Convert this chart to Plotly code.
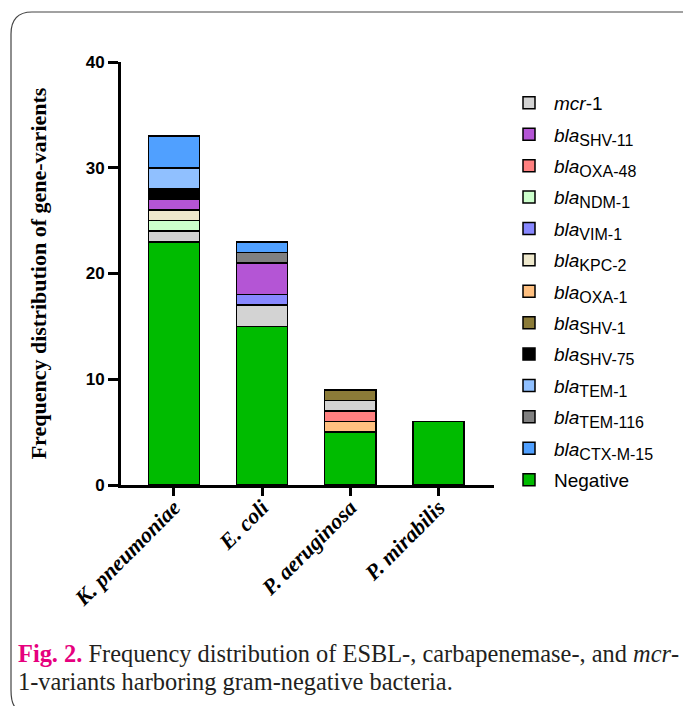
import plotly.graph_objects as go

# ---------------- data ----------------
categories = ["K. pneumoniae", "E. coli", "P. aeruginosa", "P. mirabilis"]

# stacking order bottom -> top
series_names = ["Negative", "OXA-1", "OXA-48", "mcr-1", "NDM-1", "VIM-1", "KPC-2",
                "SHV-11", "SHV-1", "SHV-75", "TEM-116", "TEM-1", "CTX-M-15"]

negative = [23, 15, 5, 6]
oxa_1 = [0, 0, 1, 0]
oxa_48 = [0, 0, 1, 0]
mcr_1 = [1, 2, 1, 0]
ndm_1 = [1, 0, 0, 0]
vim_1 = [0, 1, 0, 0]
kpc_2 = [1, 0, 0, 0]
shv_11 = [1, 3, 0, 0]
shv_1 = [0, 0, 1, 0]
shv_75 = [1, 0, 0, 0]
tem_116 = [0, 1, 0, 0]
tem_1 = [2, 0, 0, 0]
ctx_m_15 = [3, 1, 0, 0]

series_values = [negative, oxa_1, oxa_48, mcr_1, ndm_1, vim_1, kpc_2,
                 shv_11, shv_1, shv_75, tem_116, tem_1, ctx_m_15]

series_colors = ["#00BB00", "#FFC080", "#FF8080", "#D3D3D3", "#CCFFCC", "#8888FF", "#EEE8CC",
                 "#B455D5", "#8B7B38", "#000000", "#808080", "#90C0FF", "#50A0FF"]

# legend order top -> bottom
legend_order = ["mcr-1", "SHV-11", "OXA-48", "NDM-1", "VIM-1", "KPC-2", "OXA-1",
                "SHV-1", "SHV-75", "TEM-1", "TEM-116", "CTX-M-15", "Negative"]

y_ticks = [0, 10, 20, 30, 40]


def label(name):
    if name == "Negative":
        return "Negative"
    if name == "mcr-1":
        return "<i>mcr</i>-1"
    return "<i>bla</i><sub><span style='font-size:16px'>" + name + "</span></sub>"


# ---------------- layout geometry ----------------
W, H = 683, 706
L, R, T, B = 121, 494, 62, 485  # plot area in pixels


def px(x):
    return (x - L) / (R - L)


def py(y):
    return (B - y) / (B - T)


fig = go.Figure()
for name, vals, col in zip(series_names, series_values, series_colors):
    fig.add_trace(go.Bar(
        x=categories,
        y=[v if v else None for v in vals],
        name=label(name),
        marker=dict(color=col, line=dict(color="black", width=1.5)),
        width=0.58,
        legendgroup=name,
        legendrank=legend_order.index(name) + 1,
    ))

fig.update_layout(
    barmode="stack",
    width=W, height=H,
    margin=dict(l=L, r=W - R, t=T, b=H - B, pad=0),
    paper_bgcolor="white", plot_bgcolor="white",
    showlegend=True,
    legend=dict(
        x=px(504), y=py(84), xanchor="left", yanchor="top",
        traceorder="grouped", tracegroupgap=3.7, maxheight=700,
        itemwidth=40,
        font=dict(family="Liberation Sans, Arial", size=19, color="black"),
        bgcolor="rgba(0,0,0,0)",
    ),
    xaxis=dict(
        range=[-0.6, 3.63], showline=True, linecolor="black", linewidth=3,
        ticks="outside", ticklen=8, tickwidth=3, tickcolor="black",
        tickangle=-45, ticklabelstandoff=-10,
        tickfont=dict(family="Liberation Serif, Times New Roman", size=22, color="black"),
        tickvals=categories,
        ticktext=["<b><i>" + c + "</i></b>" for c in categories],
        showgrid=False, zeroline=False, fixedrange=True,
    ),
    yaxis=dict(
        range=[0, 40], tickvals=y_ticks, showline=True, linecolor="black", linewidth=3,
        ticks="outside", ticklen=10, tickwidth=3, tickcolor="black",
        tickfont=dict(family="Liberation Sans, Arial", size=17, color="black", weight="bold"),
        showgrid=False, zeroline=False, fixedrange=True,
        title=dict(text="<b>Frequency distribution of gene-varients</b>",
                   font=dict(family="Liberation Serif, Times New Roman", size=22, color="black"),
                   standoff=33),
    ),
)

# frame around figure (rounded top-left / bottom-left corners)
frame_path = (
    f"M {px(700)},{py(12)} L {px(32)},{py(12)} "
    f"Q {px(11)},{py(12)} {px(11)},{py(34)} "
    f"L {px(11)},{py(690)} Q {px(11)},{py(704)} {px(16)},{py(708)}"
)
fig.add_shape(type="path", path=frame_path, xref="paper", yref="paper",
              line=dict(color="#444444", width=1.2), layer="below")

# caption
cap_font = dict(family="Liberation Serif, Times New Roman", size=24.4, color="#231F20")
fig.add_annotation(
    x=px(16), y=py(653), xref="paper", yref="paper", xanchor="left", yanchor="middle",
    showarrow=False, align="left", font=cap_font,
    text="<b><span style='color:#E6007E'>Fig. 2.</span></b> Frequency distribution of ESBL-, carbapenemase-, and <i>mcr</i>-",
)
fig.add_annotation(
    x=px(16), y=py(681), xref="paper", yref="paper", xanchor="left", yanchor="middle",
    showarrow=False, align="left", font=cap_font,
    text="1-variants harboring gram-negative bacteria.",
)

fig.write_html("out.html", config={"displayModeBar": False},
               post_script="document.body.style.margin='0';")
